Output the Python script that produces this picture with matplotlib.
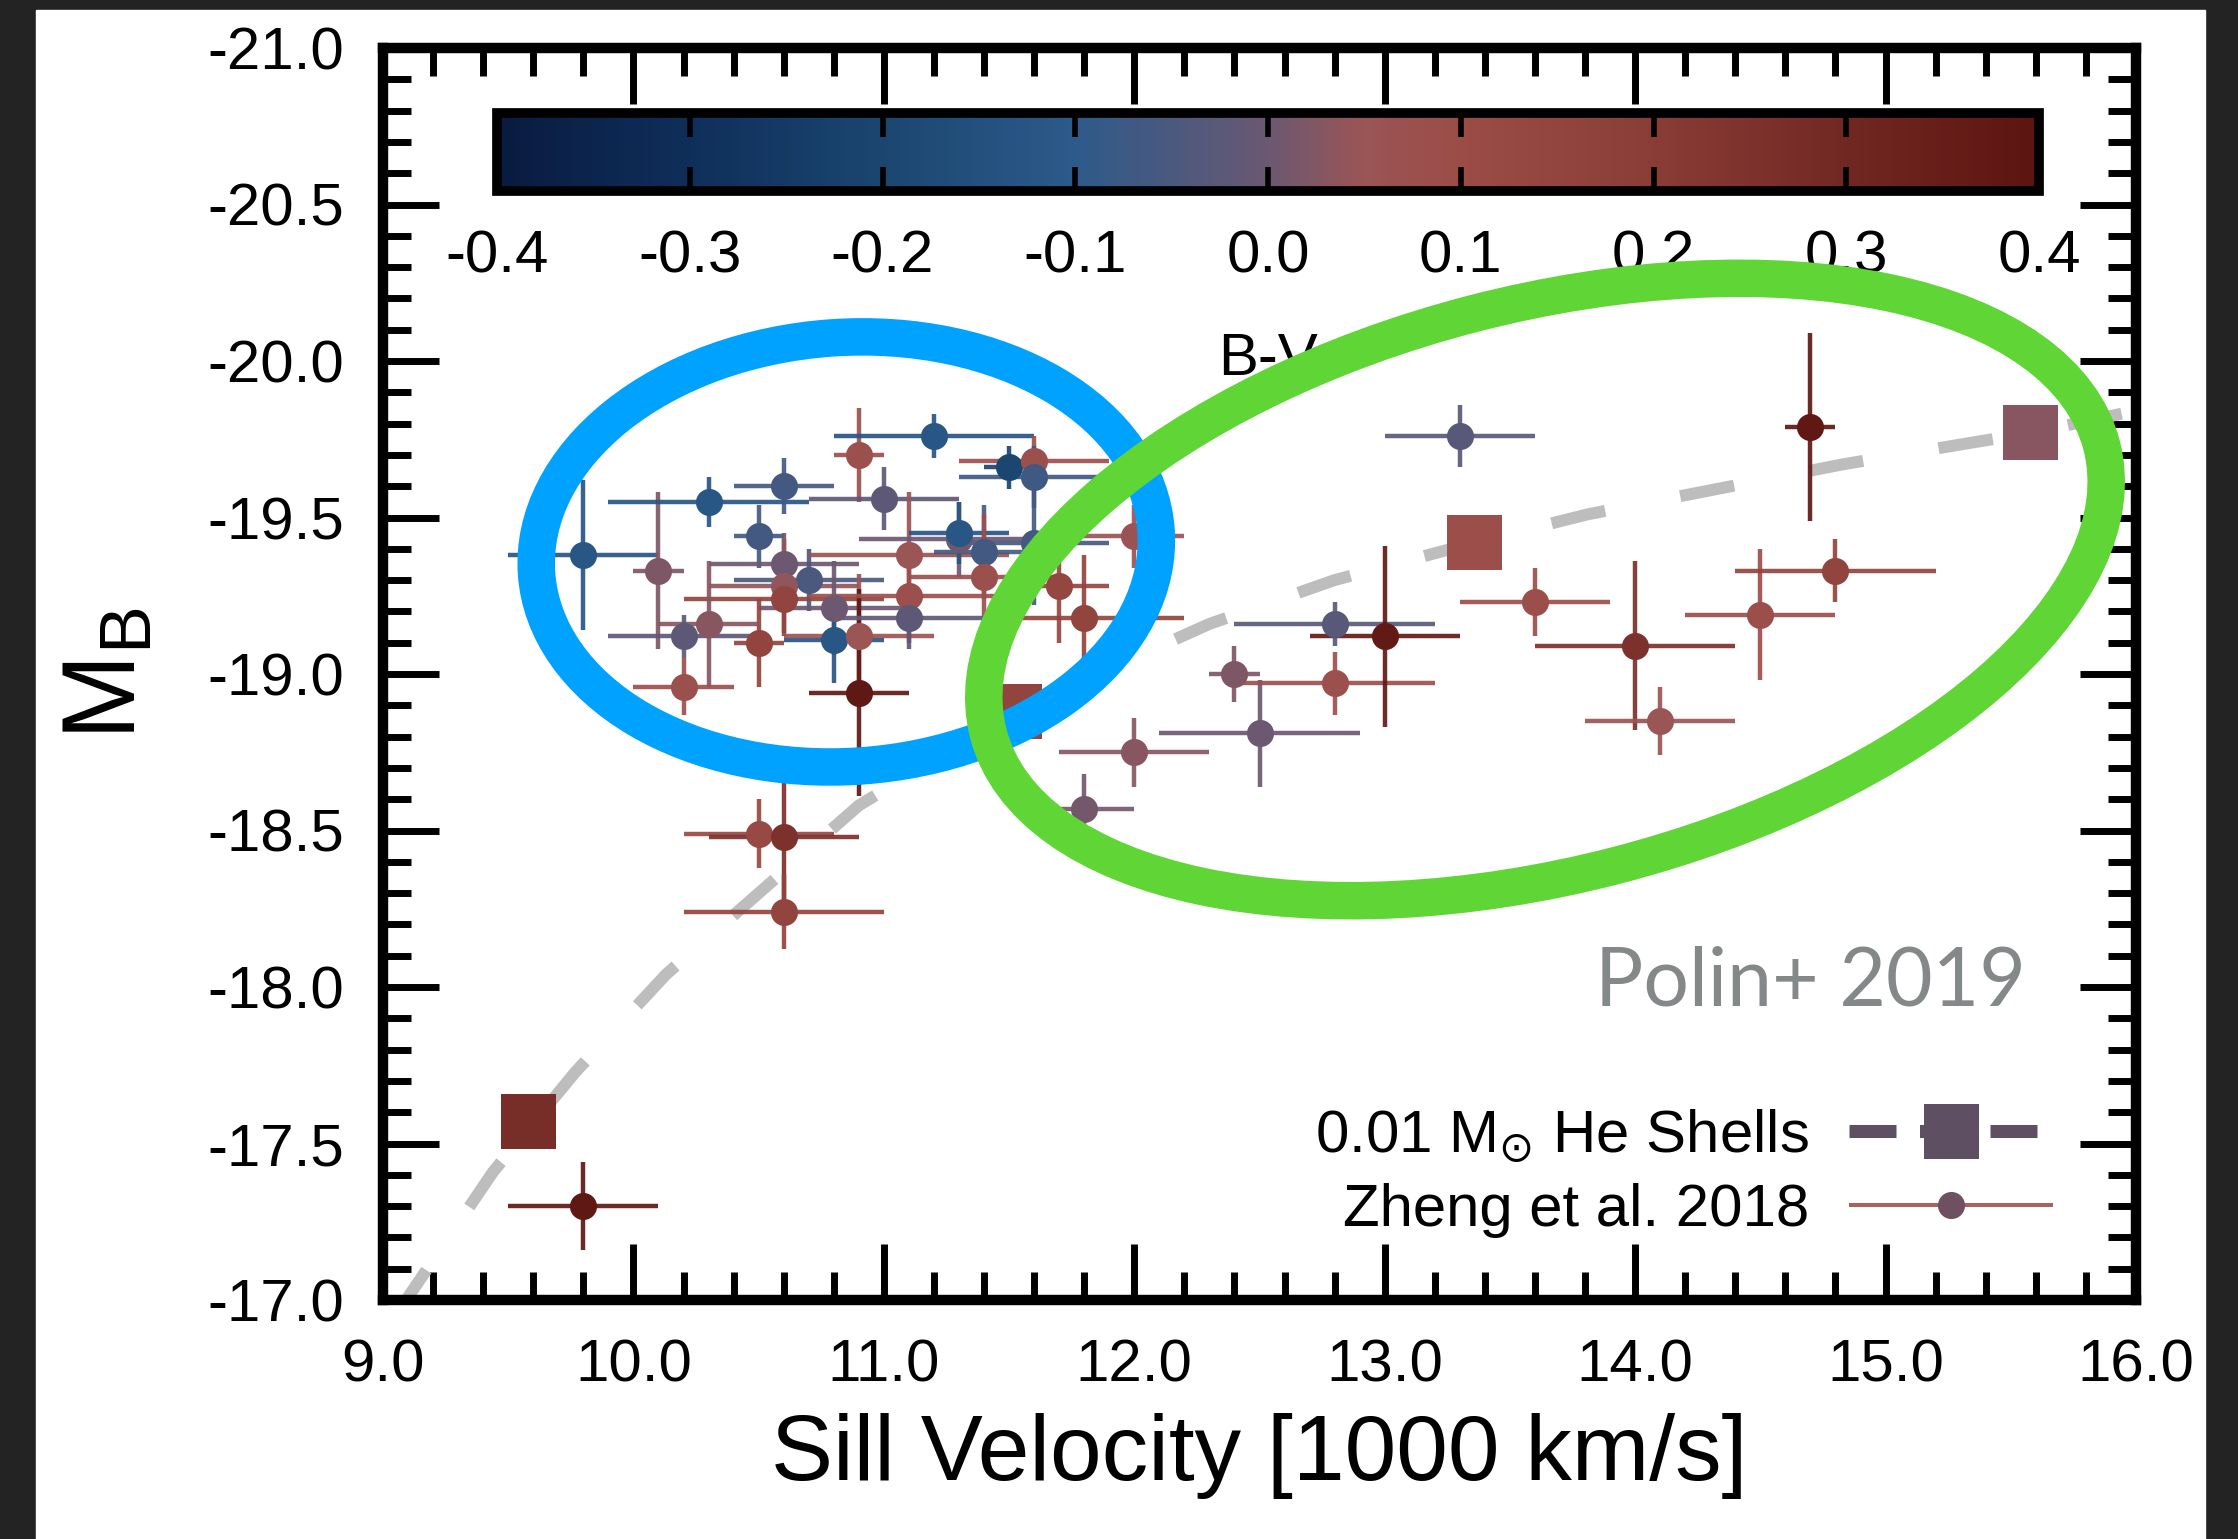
import numpy as np
import matplotlib
matplotlib.use("Agg")
import matplotlib.pyplot as plt
from matplotlib.colors import LinearSegmentedColormap, Normalize
from matplotlib.cm import ScalarMappable
from matplotlib.container import ErrorbarContainer
from matplotlib.legend_handler import HandlerErrorbar
from matplotlib.lines import Line2D
from matplotlib.patches import Ellipse, Rectangle
from matplotlib.ticker import MultipleLocator
from matplotlib.transforms import ScaledTranslation

plt.rcParams["font.family"] = ["Liberation Sans", "DejaVu Sans"]
plt.rcParams["mathtext.fontset"] = "custom"
plt.rcParams["mathtext.rm"] = "Liberation Sans"
plt.rcParams["mathtext.it"] = "Liberation Sans:italic"
plt.rcParams["mathtext.sf"] = "DejaVu Sans"
plt.rcParams["axes.unicode_minus"] = False

# Zheng et al. 2018 sample: Si II velocity (1000 km/s), M_B, B-V colour
velocity = [9.80, 10.10, 10.30, 10.60, 10.50, 10.60, 10.70, 10.60, 10.60, 10.80,
            10.80, 10.90, 10.90, 10.50, 10.30, 10.20, 10.20, 10.90, 11.20, 11.50,
            11.60, 11.60, 11.00, 11.10, 11.30, 11.30, 11.40, 11.40, 11.10, 11.10,
            11.60, 11.70, 11.80, 12.00, 12.40, 10.50, 10.60, 10.60, 12.00, 11.80,
            12.50, 12.80, 12.80, 13.00, 13.30, 13.60, 14.00, 14.10, 14.50, 14.70,
            14.80, 9.80]
velocity_err = [0.30, 0.10, 0.40, 0.20, 0.10, 0.30, 0.30, 0.30, 0.40, 0.30,
                0.20, 0.30, 0.20, 0.10, 0.20, 0.30, 0.20, 0.10, 0.40, 0.10,
                0.30, 0.30, 0.30, 0.40, 0.40, 0.20, 0.20, 0.30, 0.40, 0.30,
                0.30, 0.20, 0.40, 0.20, 0.10, 0.30, 0.30, 0.40, 0.30, 0.20,
                0.40, 0.40, 0.40, 0.30, 0.30, 0.30, 0.40, 0.30, 0.30, 0.10,
                0.40, 0.30]
mag_b = [-19.38, -19.33, -19.55, -19.60, -19.44, -19.35, -19.30, -19.28, -19.24, -19.21,
         -19.11, -19.12, -18.94, -19.10, -19.16, -19.12, -18.96, -19.70, -19.76, -19.66,
         -19.68, -19.63, -19.56, -19.38, -19.43, -19.45, -19.39, -19.31, -19.25, -19.18,
         -19.42, -19.28, -19.18, -19.44, -19.00, -18.49, -18.48, -18.24, -18.75, -18.57,
         -18.81, -19.16, -18.97, -19.12, -19.76, -19.23, -19.09, -18.85, -19.19, -19.79,
         -19.33, -17.30]
mag_b_err = [0.24, 0.25, 0.08, 0.09, 0.10, 0.10, 0.10, 0.15, 0.12, 0.15,
             0.14, 0.20, 0.33, 0.14, 0.20, 0.07, 0.09, 0.15, 0.07, 0.07,
             0.08, 0.10, 0.10, 0.20, 0.12, 0.10, 0.15, 0.20, 0.15, 0.10,
             0.20, 0.18, 0.20, 0.10, 0.09, 0.11, 0.28, 0.12, 0.11, 0.11,
             0.17, 0.07, 0.10, 0.29, 0.10, 0.11, 0.27, 0.11, 0.21, 0.30,
             0.10, 0.14]
b_v = [-0.12, 0.02, -0.12, -0.06, -0.06, 0.00, -0.05, 0.04, 0.15, 0.00,
       -0.12, 0.05, 0.38, 0.15, 0.03, -0.02, 0.08, 0.08, -0.12, -0.20,
       0.08, -0.07, -0.02, 0.05, 0.00, -0.12, -0.06, 0.08, 0.08, -0.02,
       -0.06, 0.14, 0.15, 0.06, 0.02, 0.12, 0.25, 0.15, 0.03, 0.01,
       0.00, -0.03, 0.08, 0.37, -0.03, 0.09, 0.25, 0.05, 0.09, 0.38,
       0.15, 0.38]

# Polin+ 2019 models, 0.01 Msun He shells
model_vel = [9.58, 11.52, 13.36, 15.58]
model_mag = [-17.57, -18.88, -19.42, -19.77]
model_bv = [0.27, 0.15, 0.09, 0.03]

# dashed model track
track_vel = [9.05, 9.44, 9.77, 10.13, 10.90, 11.52, 12.30, 12.80, 13.36, 13.81,
             14.32, 14.83, 15.35, 15.58, 16.05]
track_mag = [-16.95, -17.41, -17.73, -18.04, -18.58, -18.88, -19.16, -19.30, -19.42, -19.51,
             -19.59, -19.67, -19.74, -19.77, -19.85]

x_ticks = [9.0, 10.0, 11.0, 12.0, 13.0, 14.0, 15.0, 16.0]
y_ticks = [-21.0, -20.5, -20.0, -19.5, -19.0, -18.5, -18.0, -17.5, -17.0]
cbar_ticks = [-0.4, -0.3, -0.2, -0.1, 0.0, 0.1, 0.2, 0.3, 0.4]

cmap = LinearSegmentedColormap.from_list("bv", [
    (0.000, "#0a1a40"), (0.125, "#0e2f5a"), (0.250, "#1b4670"),
    (0.375, "#2c5a8a"), (0.500, "#6b5872"), (0.5625, "#9a5555"),
    (0.625, "#9b4c47"), (0.750, "#8a3c36"), (0.875, "#712823"),
    (1.000, "#5c1410")])
norm = Normalize(vmin=-0.4, vmax=0.4)

W, H, DPI = 2238, 1539, 100
fig = plt.figure(figsize=(W / DPI, H / DPI), dpi=DPI, facecolor="#232323")
fig.add_artist(Rectangle((36 / W, 0), (2205 - 36) / W, (H - 10) / H,
                         transform=fig.transFigure, color="white", zorder=-10))

ax = fig.add_axes([383 / W, (H - 1300) / H, (2136 - 383) / W, (1300 - 48) / H])
ax.set_xlim(9.0, 16.0)
ax.set_ylim(-17.0, -21.0)

ax.plot(track_vel, track_mag, color="#bdbdbd", lw=8.6, dashes=(4.6, 6.4),
        dash_capstyle="butt", zorder=2)

for v, ve, m, me, c in zip(velocity, velocity_err, mag_b, mag_b_err, b_v):
    col = cmap(norm(c))
    ecol = (col[0], col[1], col[2], 0.92)
    ax.errorbar(v, m, xerr=ve, yerr=me, fmt="o", ms=19.5, mfc=col, mec=col, mew=0,
                ecolor=ecol, elinewidth=3.2, capsize=9, capthick=3.2, zorder=3)

ax.scatter(model_vel, model_mag, c=model_bv, cmap=cmap, norm=norm, marker="s",
           s=39.6 ** 2, linewidths=0, zorder=4)

ax.set_xticks(x_ticks)
ax.set_yticks(y_ticks)
ax.set_xticklabels([f"{t:.1f}" for t in x_ticks])
ax.set_yticklabels([f"{t:.1f}" for t in y_ticks])
ax.xaxis.set_minor_locator(MultipleLocator(0.2))
ax.yaxis.set_minor_locator(MultipleLocator(0.1))
ax.tick_params(which="both", direction="in", top=True, right=True, width=5)
ax.tick_params(which="major", length=40, labelsize=43.2)
ax.tick_params(which="minor", length=20)
ax.tick_params(axis="x", which="major", pad=28)
ax.tick_params(axis="y", which="major", pad=28)
for sp in ax.spines.values():
    sp.set_linewidth(7.5)

ax.set_xlabel("Sill Velocity [1000 km/s]", fontsize=67, labelpad=14)
ax.set_ylabel(r"$\mathrm{M_B}$", fontsize=74, labelpad=36)

ax.text(14.70, -17.94, "Polin+ 2019", family=["Lato", "DejaVu Sans"], fontsize=58,
        color="#858889", ha="center", va="baseline")

# legend with proxy handles
h_model = Line2D([], [], color="#5f4f63", lw=9.4, dashes=(3.6, 1.8), marker="s",
                 markersize=39.6, mew=0)
h_data = ax.errorbar([np.nan], [np.nan], xerr=0.1, fmt="o", ms=19.5, mfc="#6e5060",
                     mec="#6e5060", mew=0, ecolor="#a8625f", elinewidth=2.9,
                     capsize=10, capthick=2.9)
ax.legend([h_model, h_data], ["0.01 M$_{\\mathsf{\u2299}}$ He Shells", "Zheng et al. 2018"],
          loc="center right", bbox_to_anchor=(0.970, 0.102), frameon=False,
          markerfirst=False, fontsize=43.2, handlelength=3.4, handletextpad=0.67,
          labelspacing=0.3, borderpad=0, numpoints=1,
          handler_map={ErrorbarContainer: HandlerErrorbar(xerr_size=1.7)})

# colour bar inside the axes
cax = fig.add_axes([497 / W, (H - 191) / H, (2039 - 497) / W, (191 - 113) / H])
cb = fig.colorbar(ScalarMappable(norm=norm, cmap=cmap), cax=cax, orientation="horizontal")
cb.set_ticks(cbar_ticks)
cb.set_ticklabels([f"{t:.1f}" for t in cbar_ticks])
cb.outline.set_linewidth(7)
cax.tick_params(which="both", direction="in", top=True, bottom=True, length=17,
                width=4, labelsize=43.2, pad=28)
cax.minorticks_off()
cb.set_label("B-V", fontsize=43.2, labelpad=34)

# highlight rings
rings = [((10.85, -19.39), 6.21, 4.29, 4.0, "#00a2ff"),
         ((13.64, -19.27), 11.50, 5.70, 14.5, "#5fd635")]
for (cx, cy), w, h, ang, col in rings:
    tr = fig.dpi_scale_trans + ScaledTranslation(cx, cy, ax.transData)
    fig.add_artist(Ellipse((0, 0), w, h, angle=ang, transform=tr, fill=False,
                           lw=27, ec=col, zorder=10))

fig.savefig("out.png", dpi=DPI, facecolor=fig.get_facecolor())
